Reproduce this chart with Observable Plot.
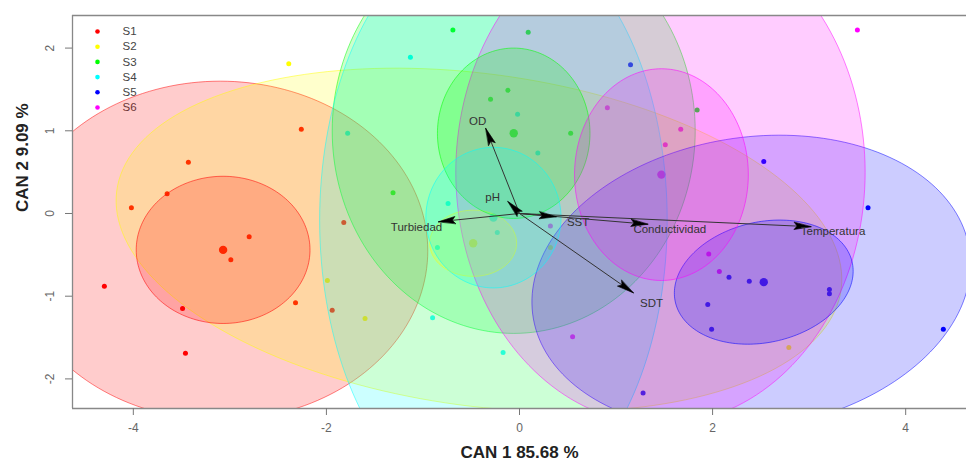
<!DOCTYPE html>
<html>
<head>
<meta charset="utf-8">
<script src="https://cdn.jsdelivr.net/npm/d3@7"></script>
<script src="https://cdn.jsdelivr.net/npm/@observablehq/plot@0.6"></script>
<style>
  html, body { margin: 0; padding: 0; background: #fff; }
  #chart svg { display: block; }
</style>
</head>
<body>
<div id="chart"></div>
<script>
// ---------- DATA ----------
const groups = ["S1", "S2", "S3", "S4", "S5", "S6"];
const groupColors = ["#FF0000", "#FFFF00", "#00FF00", "#00FFFF", "#0000FF", "#FF00FF"];

// observation scores (CAN1, CAN2) per group
const obsS1 = [[-2.26, 1.02], [-3.43, 0.62], [-3.65, 0.24], [-4.02, 0.07], [-2.80, -0.28], [-2.99, -0.56],
               [-4.30, -0.88], [-2.32, -1.08], [-3.49, -1.15], [-3.46, -1.69], [-1.82, -0.11], [-1.94, -1.17]];
const obsS2 = [[-2.39, 1.81], [-1.99, -0.81], [-1.60, -1.27], [2.79, -1.62], [0.32, -0.41]];
const obsS3 = [[-0.69, 2.22], [0.09, 2.19], [-0.30, 1.38], [-0.12, 1.49], [0.53, 0.97], [-1.31, 0.25], [1.84, 1.25]];
const obsS4 = [[-1.13, 1.89], [-1.78, 0.97], [0.19, 0.73], [-0.23, -0.23], [-0.85, -0.41], [-0.90, -1.26],
               [-0.17, -1.68], [-0.74, 0.12], [-0.02, 1.20]];
const obsS5 = [[1.15, 1.80], [2.53, 0.63], [3.61, 0.07], [2.17, -0.77], [2.38, -0.82], [3.21, -0.92],
               [3.21, -0.97], [1.95, -1.10], [1.99, -1.40], [1.28, -2.17], [4.39, -1.40]];
const obsS6 = [[3.50, 2.22], [0.91, 1.28], [1.67, 1.02], [1.51, 0.83], [1.96, -0.49], [2.07, -0.70],
               [0.55, -1.49], [0.32, -0.15]];
const observations = [obsS1, obsS2, obsS3, obsS4, obsS5, obsS6];

// group means
const meanX = [-3.07, -0.48, -0.06, -0.27, 2.53, 1.47];
const meanY = [-0.44, -0.36, 0.97, -0.05, -0.83, 0.47];

// data ellipses (outer): centre, semi-axes, rotation (degrees)
const outerCx = [-3.10, -0.42, -0.06, -0.27, 2.40, 1.46];
const outerCy = [-0.45, -0.32, 1.00, -0.08, -0.84, 0.50];
const outerA  = [2.15, 3.80, 1.88, 1.80, 2.30, 2.12];
const outerB  = [2.05, 2.00, 2.45, 3.56, 1.75, 3.05];
const outerRot = [0, -10, 0, 0, 14, 0];

// mean ellipses (inner), centred at the group means
const innerA = [0.90, 0.45, 0.79, 0.70, 0.95, 0.90];
const innerB = [0.89, 0.40, 1.03, 0.85, 0.72, 1.28];
const innerRot = [0, 0, 0, 0, 20, 0];

// structure vectors
const vecNames = ["OD", "pH", "Turbiedad", "SST", "Conductividad", "Temperatura", "SDT"];
const vecX = [-0.35, -0.12, -0.84, 0.38, 1.33, 3.02, 1.18];
const vecY = [1.03, 0.145, -0.10, -0.04, -0.13, -0.16, -0.96];

// axes
const xTicks = [-4, -2, 0, 2, 4];
const yTicks = [-2, -1, 0, 1, 2];
const xTitle = "CAN 1 85.68 %";
const yTitle = "CAN 2 9.09 %";

// ---------- LAYOUT ----------
const W = 966, H = 462, ML = 72, MR = 0, MT = 15, MB = 54;
const xDomain = [-4.63, 4.63], yDomain = [-2.358, 2.394];
const kx = (W - ML - MR) / (xDomain[1] - xDomain[0]);
const ky = (H - MT - MB) / (yDomain[1] - yDomain[0]);
const px2x = p => xDomain[0] + (p - ML) / kx;
const py2y = p => yDomain[1] - (p - MT) / ky;

function ellipsePts(cx, cy, a, b, deg) {
  const th = deg * Math.PI / 180, c = Math.cos(th), s = Math.sin(th);
  const n = 180;
  return d3.range(n).map(i => {
    const t = i / n * 2 * Math.PI;
    return {x: cx + a * Math.cos(t) * c - b * Math.sin(t) * s,
            y: cy + a * Math.cos(t) * s + b * Math.sin(t) * c};
  });
}

const points = observations.flatMap((arr, gi) => arr.map(([x, y]) => ({g: groups[gi], x, y})));
const means = groups.map((g, i) => ({g, x: meanX[i], y: meanY[i]}));

// vectors, arrowheads, labels (arrowhead geometry derived in pixel space)
const vecs = vecNames.map((name, i) => ({name, x: vecX[i], y: vecY[i]}));
const headLen = 17, headHalf = 3.6;
const heads = [];
const vecLabels = [];
for (const v of vecs) {
  const dxp = v.x * kx, dyp = -v.y * ky;
  const L = Math.hypot(dxp, dyp);
  const ux = dxp / L, uy = dyp / L;
  const nx = -uy, ny = ux;
  const toData = (ox, oy) => ({name: v.name, x: v.x + ox / kx, y: v.y - oy / ky});
  heads.push(toData(0, 0));
  heads.push(toData(-ux * headLen + nx * headHalf, -uy * headLen + ny * headHalf));
  heads.push(toData(-ux * headLen * 0.82, -uy * headLen * 0.82));
  heads.push(toData(-ux * headLen - nx * headHalf, -uy * headLen - ny * headHalf));
  vecLabels.push({name: v.name, x: v.x + ux * 22 / kx, y: v.y - (uy * 12 + 4) / ky});
}

// ---------- MARKS ----------
const marks = [];

// legend (drawn first, under the ellipses)
marks.push(Plot.dot(groups, {x: () => px2x(97), y: (d, i) => py2y(31 + i * 15.2), r: 2.3, fill: d => d}));
marks.push(Plot.text(groups, {x: () => px2x(122), y: (d, i) => py2y(31 + i * 15.2), text: d => d,
  textAnchor: "start", fontSize: 11.5, fill: "#444"}));

// observations and means
marks.push(Plot.dot(points, {x: "x", y: "y", r: 2.5, fill: "g", clip: true}));
marks.push(Plot.dot(means, {x: "x", y: "y", r: 4.2, fill: "g", clip: true}));

// outer data ellipses
groups.forEach((g, i) => {
  marks.push(Plot.line(ellipsePts(outerCx[i], outerCy[i], outerA[i], outerB[i], outerRot[i]), {
    x: "x", y: "y", curve: "linear-closed", fill: groupColors[i], fillOpacity: 0.2,
    stroke: groupColors[i], strokeOpacity: 0.55, strokeWidth: 0.9, clip: true}));
});
// inner mean ellipses
groups.forEach((g, i) => {
  marks.push(Plot.line(ellipsePts(meanX[i], meanY[i], innerA[i], innerB[i], innerRot[i]), {
    x: "x", y: "y", curve: "linear-closed", fill: groupColors[i], fillOpacity: 0.2,
    stroke: groupColors[i], strokeOpacity: 0.6, strokeWidth: 0.9, clip: true}));
});

// vectors
marks.push(Plot.link(vecs, {x1: () => 0, y1: () => 0, x2: "x", y2: "y", stroke: "#333", strokeWidth: 1}));
marks.push(Plot.line(heads, {x: "x", y: "y", z: "name", curve: "linear-closed", fill: "#000", stroke: "#000", strokeWidth: 0.6}));
marks.push(Plot.text(vecLabels, {x: "x", y: "y", text: "name", fontSize: 11.5, fill: "#333"}));

// frame (left, top, bottom)
marks.push(Plot.ruleX([xDomain[0]], {stroke: "#888", strokeWidth: 1.3}));
marks.push(Plot.ruleY([yDomain[0], yDomain[1]], {stroke: "#888", strokeWidth: 1.3}));

// axes
marks.push(Plot.axisX({ticks: xTicks, tickSize: 7, tickPadding: 8, tickFormat: d => String(d),
  fontSize: 12, stroke: "#777", fill: "#666", label: null}));
marks.push(Plot.axisY({ticks: yTicks, tickSize: 7, tickPadding: 12, tickRotate: -90, tickFormat: d => String(d),
  fontSize: 12, stroke: "#777", fill: "#666", label: null}));

// titles
marks.push(Plot.text([xTitle], {frameAnchor: "bottom", dy: 44, text: d => d, fontSize: 17, fontWeight: "bold",
  fill: "#222", lineAnchor: "middle"}));
marks.push(Plot.text([yTitle], {frameAnchor: "left", dx: -50, rotate: -90, text: d => d, fontSize: 17,
  fontWeight: "bold", fill: "#222", lineAnchor: "middle"}));

const chart = Plot.plot({
  width: W, height: H,
  marginLeft: ML, marginRight: MR, marginTop: MT, marginBottom: MB,
  x: {domain: xDomain},
  y: {domain: yDomain},
  color: {domain: groups, range: groupColors},
  style: {fontFamily: "'Liberation Sans', Arial, Helvetica, sans-serif", background: "#fff"},
  marks
});
document.getElementById("chart").appendChild(chart);
</script>
</body>
</html>
